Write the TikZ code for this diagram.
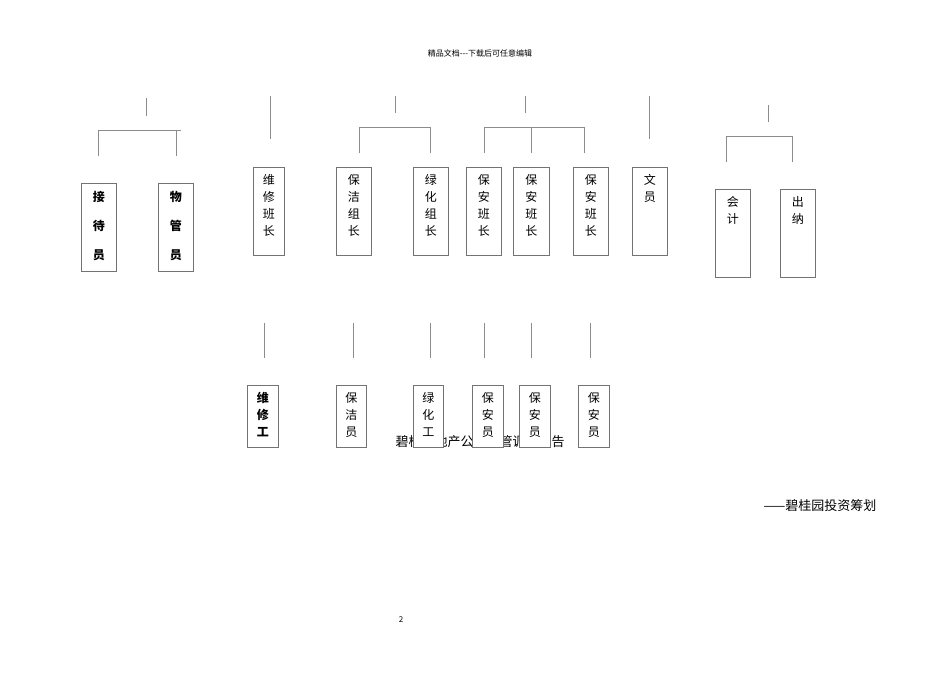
\documentclass[tikz,border=0pt]{standalone}
\usepackage{fontspec}
\setmainfont{Noto Sans CJK SC}
\newfontfamily\cjk{Noto Sans CJK SC}
\begin{document}
\begin{tikzpicture}[x=1pt,y=-1pt,
  box/.style={draw=black!55,line width=0.6pt,fill=white,anchor=north west,inner sep=0pt},
  txt/.style={anchor=north,align=center,inner sep=0pt,font=\fontsize{12}{17}\selectfont\cjk},
  btxt/.style={anchor=north,align=center,inner sep=0pt,font=\fontsize{12}{29}\selectfont\cjk\bfseries},
  ln/.style={draw=black!45,line width=0.6pt}]
\useasboundingbox (0,0) rectangle (950,672);
\node[anchor=center,font=\fontsize{8}{8}\selectfont\cjk] (hd) at (480,53) {精品文档---下载后可任意编辑};
\node[anchor=center,font=\fontsize{13}{13}\selectfont\cjk] (title) at (480,442) {碧桂园地产公司物管调研报告};
\node[anchor=east,font=\fontsize{13}{13}\selectfont\cjk] (sig) at (880,506) {——碧桂园投资筹划};
\node[anchor=center,font=\fontsize{8}{8}\selectfont] (pg) at (401,620) {2};
% lines
\draw[ln] (146,98)--(146,116);
\draw[ln] (98,156)--(98,130)--(181,130); \draw[ln] (176,130)--(176,156);
\draw[ln] (270,96)--(270,139);
\draw[ln] (395,96)--(395,113);
\draw[ln] (359,153)--(359,127)--(430,127)--(430,153);
\draw[ln] (525,96)--(525,113);
\draw[ln] (484,153)--(484,127)--(584,127)--(584,153); \draw[ln] (531,127)--(531,153);
\draw[ln] (649,96)--(649,139);
\draw[ln] (768,105)--(768,122);
\draw[ln] (726,162)--(726,136)--(792,136)--(792,162);
\foreach \x in {264,353,430,484,531,590} \draw[ln] (\x,323)--(\x,358);
% top boxes
\node[box,minimum width=35,minimum height=88] (b1) at (81,183) {};
\node[btxt] (t1) at ([yshift=-8]b1.north) {接\\待\\员};
\node[box,minimum width=35,minimum height=88] (b2) at (158,183) {};
\node[btxt] (t2) at ([yshift=-8]b2.north) {物\\管\\员};
\node[box,minimum width=31,minimum height=88] (b3) at (253,167) {};
\node[txt] (t3) at ([yshift=-7]b3.north) {维\\修\\班\\长};
\node[box,minimum width=35,minimum height=88] (b4) at (336,167) {};
\node[txt] (t4) at ([yshift=-7]b4.north) {保\\洁\\组\\长};
\node[box,minimum width=35,minimum height=88] (b5) at (413,167) {};
\node[txt] (t5) at ([yshift=-7]b5.north) {绿\\化\\组\\长};
\node[box,minimum width=35,minimum height=88] (b6) at (466,167) {};
\node[txt] (t6) at ([yshift=-7]b6.north) {保\\安\\班\\长};
\node[box,minimum width=36,minimum height=88] (b7) at (513,167) {};
\node[txt] (t7) at ([yshift=-7]b7.north) {保\\安\\班\\长};
\node[box,minimum width=35,minimum height=88] (b8) at (573,167) {};
\node[txt] (t8) at ([yshift=-7]b8.north) {保\\安\\班\\长};
\node[box,minimum width=35,minimum height=88] (b9) at (632,167) {};
\node[txt] (t9) at ([yshift=-7]b9.north) {文\\员};
\node[box,minimum width=35,minimum height=88] (b10) at (715,189) {};
\node[txt] (t10) at ([yshift=-7]b10.north) {会\\计};
\node[box,minimum width=35,minimum height=88] (b11) at (780,189) {};
\node[txt] (t11) at ([yshift=-7]b11.north) {出\\纳};
% bottom boxes
\node[box,minimum width=31,minimum height=62] (c1) at (247,385) {};
\node[txt,font=\fontsize{12}{17}\selectfont\cjk\bfseries] (s1) at ([yshift=-7]c1.north) {维\\修\\工};
\node[box,minimum width=30,minimum height=62] (c2) at (336,385) {};
\node[txt] (s2) at ([yshift=-7]c2.north) {保\\洁\\员};
\node[box,minimum width=30,minimum height=62] (c3) at (413,385) {};
\node[txt] (s3) at ([yshift=-7]c3.north) {绿\\化\\工};
\node[box,minimum width=31,minimum height=62] (c4) at (472,385) {};
\node[txt] (s4) at ([yshift=-7]c4.north) {保\\安\\员};
\node[box,minimum width=31,minimum height=62] (c5) at (519,385) {};
\node[txt] (s5) at ([yshift=-7]c5.north) {保\\安\\员};
\node[box,minimum width=31,minimum height=62] (c6) at (578,385) {};
\node[txt] (s6) at ([yshift=-7]c6.north) {保\\安\\员};
\end{tikzpicture}
\end{document}
